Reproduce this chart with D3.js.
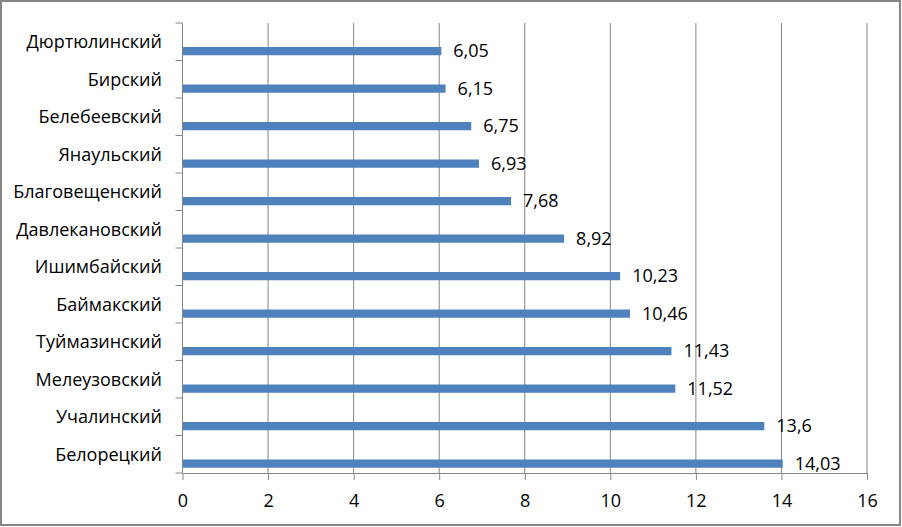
<!DOCTYPE html>
<html>
<head>
<meta charset="utf-8">
<script src="https://cdn.jsdelivr.net/npm/d3@7"></script>
<style>
  body { margin: 0; background: #fff; }
  svg { display: block; font-family: "Open Sans", "DejaVu Sans", sans-serif; }
</style>
</head>
<body>
<svg id="plot" width="902" height="527"></svg>
<script>
const districts = ['Дюртюлинский', 'Бирский', 'Белебеевский', 'Янаульский', 'Благовещенский',
  'Давлекановский', 'Ишимбайский', 'Баймакский', 'Туймазинский', 'Мелеузовский', 'Учалинский', 'Белорецкий'];
const values = [6.05, 6.15, 6.75, 6.93, 7.68, 8.92, 10.23, 10.46, 11.43, 11.52, 13.6, 14.03];
const valueLabels = ['6,05', '6,15', '6,75', '6,93', '7,68', '8,92', '10,23', '10,46', '11,43', '11,52', '13,6', '14,03'];
const xTicks = [0, 2, 4, 6, 8, 10, 12, 14, 16];

const plot = d3.select('#plot');
const plotLeft = 182.5, plotRight = 867, plotTop = 23, plotBottom = 473;
const fontSize = 18;

// chart frame
plot.append('rect')
  .attr('x', 1).attr('y', 1).attr('width', 899).attr('height', 524)
  .attr('fill', '#fff').attr('stroke', '#868686').attr('stroke-width', 2);

const xScale = d3.scaleLinear().domain([0, 16]).range([plotLeft, plotRight]);
const yScale = d3.scaleBand().domain(districts).range([plotTop, plotBottom]);

// vertical grid
plot.append('g')
  .selectAll('line')
  .data(xTicks.slice(1))
  .join('line')
  .attr('x1', d => xScale(d)).attr('x2', d => xScale(d))
  .attr('y1', plotTop).attr('y2', plotBottom)
  .attr('stroke', '#868686').attr('stroke-width', 1);

// bars sit in the lower part of each band
const bw = yScale.bandwidth();
plot.append('g')
  .selectAll('rect')
  .data(values)
  .join('rect')
  .attr('x', xScale(0))
  .attr('y', (d, i) => yScale(districts[i]) + bw * 0.64)
  .attr('width', d => xScale(d) - xScale(0))
  .attr('height', bw * 0.22)
  .attr('fill', '#4f81bd');

// value labels
plot.append('g')
  .selectAll('text')
  .data(values)
  .join('text')
  .attr('x', d => xScale(d) + 12)
  .attr('y', (d, i) => yScale(districts[i]) + bw * 0.75)
  .attr('dy', '0.35em')
  .attr('font-size', fontSize)
  .attr('fill', '#000')
  .text((d, i) => valueLabels[i]);

// x axis
const xAxis = d3.axisBottom(xScale)
  .tickValues(xTicks)
  .tickSizeInner(7)
  .tickSizeOuter(0)
  .tickPadding(14)
  .tickFormat(d3.format('d'));

const gx = plot.append('g')
  .attr('transform', `translate(0, ${plotBottom})`)
  .call(xAxis);
gx.select('.domain').attr('stroke', '#868686');
gx.selectAll('.tick line').attr('stroke', '#868686');
gx.selectAll('.tick text')
  .attr('font-size', fontSize)
  .attr('fill', '#000')
  .attr('font-family', '"Open Sans", sans-serif');

// y axis: line plus tick marks at band boundaries
plot.append('line')
  .attr('x1', plotLeft).attr('x2', plotLeft)
  .attr('y1', plotTop).attr('y2', plotBottom)
  .attr('stroke', '#868686');

const bounds = districts.map(d => yScale(d)).concat([plotBottom]);
plot.append('g')
  .selectAll('line')
  .data(bounds)
  .join('line')
  .attr('x1', plotLeft - 7).attr('x2', plotLeft)
  .attr('y1', d => d).attr('y2', d => d)
  .attr('stroke', '#868686');

// category labels
plot.append('g')
  .selectAll('text')
  .data(districts)
  .join('text')
  .attr('x', 162)
  .attr('y', d => yScale(d) + bw / 2)
  .attr('dy', '0.35em')
  .attr('text-anchor', 'end')
  .attr('font-size', fontSize)
  .attr('fill', '#000')
  .text(d => d);
</script>
</body>
</html>
